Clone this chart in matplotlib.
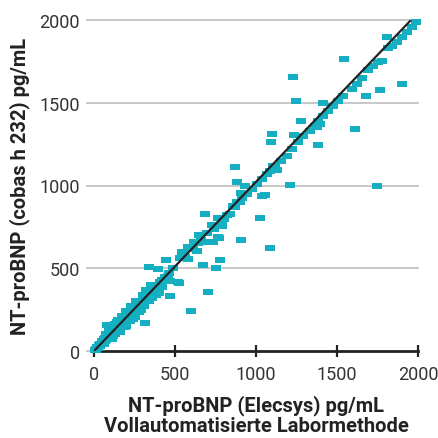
import matplotlib
matplotlib.use("Agg")
import matplotlib.pyplot as plt
import numpy as np

# ---- data (pg/mL) ----
elecsys = [
    5, 10, 15, 20, 25, 30, 35, 40, 45, 50, 55, 60, 65, 70, 75, 80, 85, 90, 95, 100,
    100, 105, 110, 115, 120, 120, 125, 130, 135, 140, 140, 145, 150, 155, 160, 160,
    165, 170, 175, 180, 180, 185, 190, 195, 200, 200, 205, 210, 215, 220, 225, 230,
    235, 240, 245, 250, 255, 260, 265, 270, 275, 280, 285, 290, 295, 300, 305, 310,
    315, 320, 330, 335, 340, 350, 355, 360, 370, 375, 380, 390, 400, 405, 415, 420,
    430, 440, 450, 460, 120, 150, 180, 200, 230, 90, 110, 130, 60, 160, 250, 270,
    210, 75, 140,
    150, 170, 200, 230, 260, 300, 320, 350, 250, 280, 310, 340, 380, 400, 200, 160,
    220, 130, 110, 240, 290, 360, 420, 190,
    78, 316, 469, 599, 706, 527, 444, 341, 393, 356,
    490, 459, 428, 469, 520, 387, 325, 304, 541, 531, 593, 634, 644, 696, 772, 726,
    788, 767, 823, 685, 870, 901, 860, 881, 912, 943, 973, 1008, 778, 675, 753, 582,
    736, 767, 840, 788, 560, 610, 660, 700, 740, 800, 620, 580, 650,
    1035, 1066, 1086, 1117, 1154, 1189, 1220, 1261, 1292, 1333, 1364, 1385, 1415,
    1446, 1477, 1508, 1539, 1591, 1622, 1652, 1693, 1724, 1755, 1776, 1817, 1838,
    1872, 1899, 1930, 1961, 1988, 1395, 1375,
    1543, 1226, 1245, 1903, 1765, 1679, 1415, 1278, 1613, 1099, 1091, 1236, 1381,
    1210, 1749, 1035, 1056, 1025, 1086, 906, 872, 881, 932, 906, 1809, 1128, 1107,
]
cobas = [
    5, 15, 8, 25, 20, 35, 28, 45, 40, 60, 48, 70, 58, 80, 65, 90, 78, 100, 85, 110,
    95, 120, 100, 125, 108, 135, 118, 140, 125, 150, 130, 160, 140, 170, 150, 175,
    160, 185, 165, 195, 175, 200, 180, 210, 190, 215, 200, 225, 205, 235, 215, 245,
    225, 250, 235, 265, 245, 270, 255, 280, 265, 295, 275, 300, 285, 310, 295, 325,
    305, 330, 320, 345, 335, 360, 345, 370, 360, 385, 370, 400, 390, 415, 400, 430,
    420, 445, 440, 470, 90, 120, 150, 165, 200, 120, 140, 165, 45, 130, 230, 250,
    190, 105, 175,
    190, 210, 240, 270, 300, 340, 370, 400, 205, 235, 270, 300, 340, 350, 150, 115,
    180, 100, 75, 195, 245, 320, 385, 145,
    159, 171, 330, 244, 355, 411, 552, 510, 495, 350,
    500, 455, 425, 425, 415, 395, 354, 334, 600, 560, 616, 606, 653, 657, 683, 761,
    757, 801, 822, 828, 868, 902, 874, 898, 922, 949, 979, 1009, 552, 520, 502, 556,
    657, 687, 828, 788, 570, 620, 670, 710, 740, 800, 660, 630, 700,
    1039, 1070, 1090, 1120, 1146, 1181, 1221, 1265, 1297, 1331, 1362, 1392, 1422,
    1452, 1479, 1513, 1539, 1583, 1613, 1650, 1698, 1725, 1745, 1754, 1829, 1841,
    1865, 1895, 1929, 1955, 1986, 1372, 1351,
    1764, 1657, 1513, 1613, 1579, 1539, 1497, 1387, 1339, 1313, 1260, 1305, 1247,
    1005, 995, 939, 943, 806, 620, 671, 1114, 1023, 995, 953, 1897, 1096, 1120,
]
fit_slope = 1.022
fit_intercept = 0.0
fit_x = [0, 1957]

x_ticks = [0, 500, 1000, 1500, 2000]
y_ticks = [0, 500, 1000, 1500, 2000]
x_label = "NT-proBNP (Elecsys) pg/mL\nVollautomatisierte Labormethode"
y_label = "NT-proBNP (cobas h 232) pg/mL"

# ---- style ----
teal = "#14afc0"
dark = "#222222"
grid_c = "#c8c8c8"
plt.rcParams["font.family"] = ["Roboto", "DejaVu Sans"]

fig = plt.figure(figsize=(4.38, 4.39), dpi=100)
ax = fig.add_axes([94 / 438, 1 - 352 / 439, 324 / 438, 331 / 439])

rect = [(-1, -0.62), (1, -0.62), (1, 0.62), (-1, 0.62), (-1, -0.62)]
ax.scatter(elecsys, cobas, marker=rect, s=56, color=teal, linewidths=0,
           zorder=3, clip_on=False)

fx = np.array(fit_x, dtype=float)
ax.plot(fx, fit_slope * fx + fit_intercept, color=dark, lw=1.6, zorder=4,
        solid_capstyle="butt")

ax.set_xlim(0, 2000)
ax.set_ylim(0, 2000)
ax.set_xticks(x_ticks)
ax.set_yticks(y_ticks)
ax.set_xticklabels([str(v) for v in x_ticks])
ax.set_yticklabels([str(v) for v in y_ticks])

for s in ["top", "right", "left"]:
    ax.spines[s].set_visible(False)
ax.spines["bottom"].set_color(dark)
ax.spines["bottom"].set_linewidth(2.0)
ax.spines["bottom"].set_zorder(2)

for v in y_ticks[1:]:
    ax.axhline(v, color=grid_c, lw=1.4, zorder=1, clip_on=False)

ax.tick_params(axis="x", direction="inout", length=8, width=1.6, color=dark,
               labelsize=13, labelcolor="#333333", pad=6)
ax.tick_params(axis="y", direction="out", length=6, width=1.4, color=grid_c,
               labelsize=13, labelcolor="#333333", pad=4)
ax.yaxis.get_major_ticks()[0].tick1line.set_color(dark)

ax.set_xlabel(x_label, fontsize=14.5, fontweight="bold", color=dark,
              labelpad=8, linespacing=1.12)
ax.set_ylabel(y_label, fontsize=14.5, fontweight="bold", color=dark,
              labelpad=7)

fig.savefig("out.png", dpi=100)
